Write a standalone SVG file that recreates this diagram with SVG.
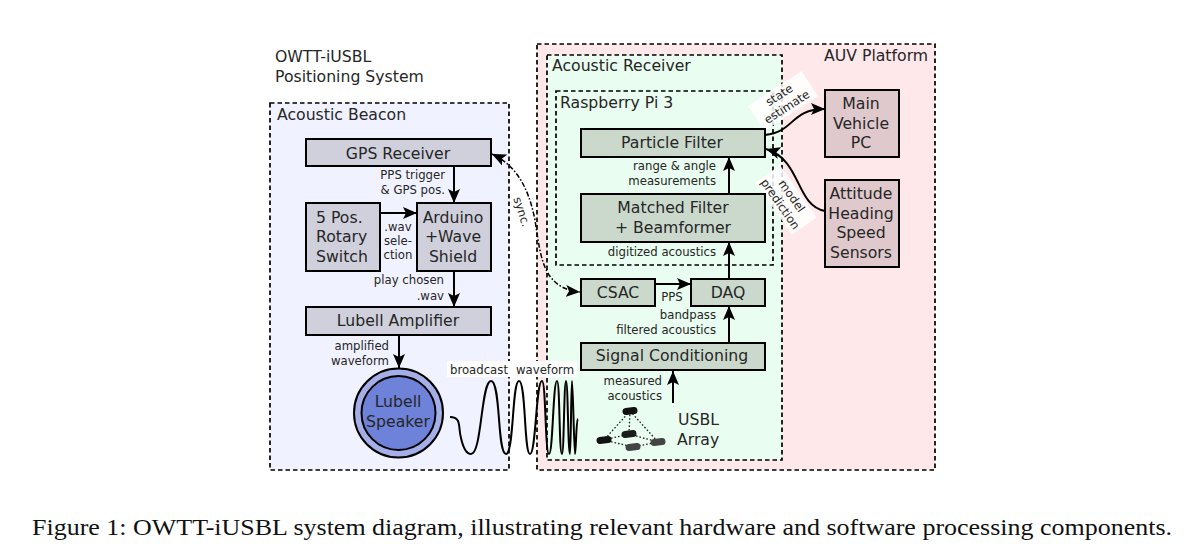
<svg xmlns="http://www.w3.org/2000/svg" width="1188" height="555" viewBox="0 0 1188 555">
<style>
text{font-family:"DejaVu Sans",sans-serif;fill:#262626}
.n{font-size:15.7px;text-anchor:middle}
.l{font-size:15.7px}
.s{font-size:11.700px;text-anchor:middle}
.e{font-size:11.700px;text-anchor:end}
.t{font-size:15.700px}
.c{fill:none;stroke:#000;stroke-width:2;stroke-linejoin:round}
.a{fill:none;stroke:#000;stroke-width:2;marker-end:url(#h)}
.b{stroke:#000;stroke-width:2}
.g{fill:#cfd0dc}.v{fill:#cbd9cd}.p{fill:#dfc9cc}
.d{stroke:#000;stroke-width:1.7;stroke-dasharray:4.5 3}
.u{fill:none;stroke:#222;stroke-width:1.3;stroke-dasharray:1.6 2}
.m{rx:3.5px}
</style>
<defs>
<marker id="h" markerUnits="userSpaceOnUse" markerWidth="16" markerHeight="14" refX="14" refY="7" orient="auto-start-reverse">
<path d="M0 1 L14 7 L0 13 L3 7 Z" fill="#000"/>
</marker>
</defs>
<rect width="1188" height="555" fill="#fff"/>
<g id="regions">
<rect id="auv" x="537" y="44" width="398" height="426" fill="#ffe8ea" class="d"/>
<rect id="beacon" x="270" y="103" width="239" height="367" fill="#f1f2ff" class="d"/>
<rect id="receiver" x="547" y="55" width="235" height="405" fill="#e9fdf0" class="d"/>
<rect id="pi" x="556" y="91" width="217" height="174" fill="#e9fdf0" class="d"/>
<text x="275" y="62" class="t">OWTT-iUSBL</text>
<text x="275" y="82" class="t">Positioning System</text>
<text x="277" y="120" class="t">Acoustic Beacon</text>
<text x="824" y="61" class="t">AUV Platform</text>
<text x="552" y="71" class="t">Acoustic Receiver</text>
<text x="560" y="108" class="t">Raspberry Pi 3</text>
</g>
<g id="connectors">
<path class="a" d="M454 166V203"/>
<path class="a" d="M380 213H417"/>
<path class="a" d="M454 271V307"/>
<path class="a" d="M399 336V368"/>
<path class="a" d="M729 194V157"/>
<path class="a" d="M729 279V242"/>
<path class="a" d="M655 284H691"/>
<path class="a" d="M729 343V306"/>
<path class="a" d="M673 403V371"/>
<path class="a" d="M765 135C795 132 790 109 825 109"/>
<path class="a" d="M825 211C795 205 802 160 766 149"/>
<path d="M492 154C515 165 528 185 535 220C539 247 541 262 549 275C556 285 566 291 580 292" fill="none" stroke="#000" stroke-width="1.500" stroke-dasharray="5 2 1.500 2" marker-start="url(#h)" marker-end="url(#h)"/>
</g>
<g id="labels">
<g transform="rotate(-33 783 101)"><rect x="751" y="86" width="64" height="30" fill="#fff" opacity=".85"/><text x="783" y="98" class="s">state</text><text x="783" y="112" class="s">estimate</text></g>
<g transform="rotate(55 786 200)"><rect x="754" y="185" width="64" height="30" fill="#fff" opacity=".85"/><text x="786" y="197" class="s">model</text><text x="786" y="211" class="s">prediction</text></g>
<text x="0" y="0" class="s" transform="translate(518 213) rotate(72)">sync.</text>
<text x="445" y="179" class="e">PPS trigger</text>
<text x="445" y="194" class="e">&amp; GPS pos.</text>
<text x="398" y="231" class="s">.wav</text>
<text x="398" y="245" class="s">sele-</text>
<text x="398" y="259" class="s">ction</text>
<text x="444" y="284" class="e">play chosen</text>
<text x="444" y="300" class="e">.wav</text>
<text x="389" y="350" class="e">amplified</text>
<text x="389" y="365" class="e">waveform</text>
<text x="716" y="170" class="e">range &amp; angle</text>
<text x="716" y="185" class="e">measurements</text>
<text x="716" y="256" class="e">digitized acoustics</text>
<text x="672" y="301" class="s">PPS</text>
<text x="716" y="319" class="e">bandpass</text>
<text x="716" y="334" class="e">filtered acoustics</text>
<text x="662" y="385" class="e">measured</text>
<text x="662" y="400" class="e">acoustics</text>
</g>
<g id="gps"><rect x="306" y="139" width="185" height="27" class="b g"/><text x="398" y="158.500" class="n">GPS Receiver</text></g>
<g id="rotary"><rect x="306" y="203" width="74" height="68" class="b g"/><text x="316" y="223" class="l">5 Pos.</text><text x="316" y="242" class="l">Rotary</text><text x="316" y="262" class="l">Switch</text></g>
<g id="arduino"><rect x="417" y="203" width="74" height="68" class="b g"/><text x="453" y="223" class="n">Arduino</text><text x="453" y="242" class="n">+Wave</text><text x="453" y="262" class="n">Shield</text></g>
<g id="amp"><rect x="306" y="307" width="185" height="28" class="b g"/><text x="398" y="326" class="n">Lubell Amplifier</text></g>
<g id="speaker"><circle cx="398.500" cy="413" r="44.500" fill="#a3afe6" class="b"/><circle cx="398.500" cy="413" r="37" fill="#6d82d8" class="b"/><text x="398" y="407" class="n">Lubell</text><text x="398" y="427" class="n">Speaker</text></g>
<g id="particle"><rect x="581" y="129" width="184" height="28" class="b v"/><text x="672" y="148" class="n">Particle Filter</text></g>
<g id="matched"><rect x="581" y="194" width="184" height="48" class="b v"/><text x="673" y="213" class="n">Matched Filter</text><text x="673" y="233" class="n">+ Beamformer</text></g>
<g id="csac"><rect x="581" y="279" width="74" height="27" class="b v"/><text x="618" y="298" class="n">CSAC</text></g>
<g id="daq"><rect x="691" y="279" width="74" height="27" class="b v"/><text x="728" y="298" class="n">DAQ</text></g>
<g id="signal"><rect x="581" y="343" width="184" height="27" class="b v"/><text x="672" y="361" class="n">Signal Conditioning</text></g>
<g id="main"><rect x="825" y="90" width="74" height="67" class="b p"/><text x="861" y="109" class="n">Main</text><text x="861" y="129" class="n">Vehicle</text><text x="861" y="148" class="n">PC</text></g>
<g id="sensors"><rect x="825" y="180" width="74" height="87" class="b p"/><text x="861" y="199" class="n">Attitude</text><text x="861" y="219" class="n">Heading</text><text x="861" y="238" class="n">Speed</text><text x="861" y="258" class="n">Sensors</text></g>
<g id="waveform">
<rect x="447" y="361" width="130" height="16" fill="#fff"/>
<text x="450" y="374" style="font-size:11.7px">broadcast</text><text x="516" y="374" style="font-size:11.7px">waveform</text>
<path class="c" d="M450 417C462 417 458 428 461 438C463 447 466 454 471 454C482 454 481 381 491 381C501 381 497 454 506 454C514 454 512 381 519 381C526 381 524 454 530 454C536 454 536 381 542 381C546 381 545 454 549 454C553 454 553 381 557 381C560 381 559 454 562 454C564 454 564 381 566 381C568 381 568 454 570 454C571 454 571 381 572 381C573 381 574 454 575 454C576 454 576 420 578 419"/>
</g>
<g id="usbl">
<path class="u" d="M630 411L604 440M630 411L629 434M630 411L658 442M604 440L629 434M604 440L633 447L658 442M629 434L658 442"/>
<rect x="622.500" y="407.500" width="15" height="7" rx="3.500" fill="#111" transform="rotate(-6 630 411)"/>
<rect x="596.500" y="436.500" width="15" height="7" rx="3.500" fill="#111" transform="rotate(-6 604 440)"/>
<rect x="621.500" y="430.500" width="15" height="7" rx="3.500" fill="#1c1c1c" transform="rotate(-6 629 434)"/>
<rect x="650.500" y="438.500" width="15" height="7" rx="3.500" fill="#444" transform="rotate(-6 658 442)"/>
<rect x="625.500" y="443.500" width="15" height="7" rx="3.500" fill="#444" transform="rotate(-6 633 447)"/>
<text x="678" y="425" class="t">USBL</text><text x="677" y="445" class="t">Array</text>
</g>
<text id="caption" x="32" y="535" textLength="1140" lengthAdjust="spacingAndGlyphs" style="font-family:'Liberation Serif',serif;font-size:23px;fill:#111">Figure 1: OWTT-iUSBL system diagram, illustrating relevant hardware and software processing components.</text>
</svg>
